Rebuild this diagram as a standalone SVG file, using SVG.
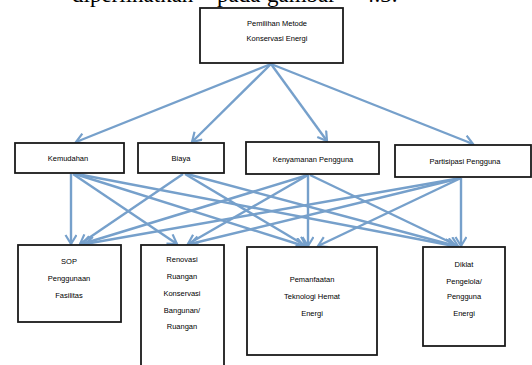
<svg xmlns="http://www.w3.org/2000/svg" width="532" height="365" viewBox="0 0 532 365">
<defs>
<style>
.box{fill:#fff;stroke:#1a1a1a;stroke-width:1.8}
.t{font-family:"Liberation Sans",Arial,sans-serif;font-size:7.5px;fill:#000;text-anchor:middle}
.cap{font-family:"Liberation Serif","Times New Roman",serif;font-size:23px;fill:#000}
.c{stroke:#76a0cb;stroke-width:2.4;fill:none;marker-end:url(#ah)}
</style>
<marker id="ah" markerWidth="14" markerHeight="14" refX="10" refY="6" orient="auto" markerUnits="userSpaceOnUse">
<path d="M1,0.5 L10,6 L1,11.5" fill="none" stroke="#76a0cb" stroke-width="2.2"/>
</marker>
</defs>
<rect width="532" height="365" fill="#fff"/>
<text class="cap" y="2"><tspan x="72">diperlihatkan</tspan><tspan x="217">pada</tspan><tspan x="267">gambar</tspan><tspan x="363">4.3.</tspan></text>

<g id="connectors">
<line class="c" x1="271" y1="64" x2="76" y2="142"/>
<line class="c" x1="271" y1="64" x2="192" y2="142"/>
<line class="c" x1="271" y1="64" x2="327" y2="141"/>
<line class="c" x1="271" y1="64" x2="473" y2="144"/>

<line class="c" x1="71" y1="174" x2="71" y2="244"/>
<line class="c" x1="73" y1="174" x2="177" y2="244"/>
<line class="c" x1="75" y1="174" x2="304" y2="246"/>
<line class="c" x1="77" y1="174" x2="454" y2="246"/>

<line class="c" x1="183" y1="174" x2="80" y2="244"/>
<line class="c" x1="185" y1="174" x2="306" y2="246"/>
<line class="c" x1="187" y1="174" x2="456" y2="246"/>

<line class="c" x1="308" y1="175" x2="82" y2="244"/>
<line class="c" x1="308" y1="175" x2="188" y2="244"/>
<line class="c" x1="308" y1="175" x2="308" y2="246"/>
<line class="c" x1="310" y1="175" x2="458" y2="246"/>

<line class="c" x1="461" y1="178" x2="85" y2="244"/>
<line class="c" x1="461" y1="178" x2="190" y2="244"/>
<line class="c" x1="461" y1="178" x2="318" y2="246"/>
<line class="c" x1="461" y1="178" x2="461" y2="246"/>
</g>

<g id="n-top">
<rect class="box" x="200" y="8" width="143" height="55"/>
<text class="t" x="277" y="26">Pemilihan Metode</text>
<text class="t" x="277" y="41">Konservasi Energi</text>
</g>

<g id="n-kemudahan">
<rect class="box" x="15" y="143" width="109" height="30"/>
<text class="t" x="68" y="161">Kemudahan</text>
</g>
<g id="n-biaya">
<rect class="box" x="138" y="143" width="86" height="30"/>
<text class="t" x="181" y="161">Biaya</text>
</g>
<g id="n-kenyamanan">
<rect class="box" x="246" y="142" width="133" height="32"/>
<text class="t" x="313" y="162">Kenyamanan Pengguna</text>
</g>
<g id="n-partisipasi">
<rect class="box" x="395" y="145" width="136" height="32"/>
<text class="t" x="465" y="164">Partisipasi Pengguna</text>
</g>

<g id="n-sop">
<rect class="box" x="18" y="245" width="103" height="77"/>
<text class="t" x="69" y="264">SOP</text>
<text class="t" x="69" y="281">Penggunaan</text>
<text class="t" x="69" y="298">Fasilitas</text>
</g>
<g id="n-renovasi">
<rect class="box" x="141" y="245" width="83" height="125"/>
<text class="t" x="182" y="262">Renovasi</text>
<text class="t" x="182" y="279">Ruangan</text>
<text class="t" x="182" y="296">Konservasi</text>
<text class="t" x="182" y="313">Bangunan/</text>
<text class="t" x="182" y="329">Ruangan</text>
</g>
<g id="n-teknologi">
<rect class="box" x="247" y="247" width="130" height="108"/>
<text class="t" x="312" y="282">Pemanfaatan</text>
<text class="t" x="312" y="299">Teknologi Hemat</text>
<text class="t" x="312" y="316">Energi</text>
</g>
<g id="n-diklat">
<rect class="box" x="423" y="247" width="82" height="99"/>
<text class="t" x="464" y="267">Diklat</text>
<text class="t" x="464" y="284">Pengelola/</text>
<text class="t" x="464" y="299">Pengguna</text>
<text class="t" x="464" y="316">Energi</text>
</g>
</svg>
